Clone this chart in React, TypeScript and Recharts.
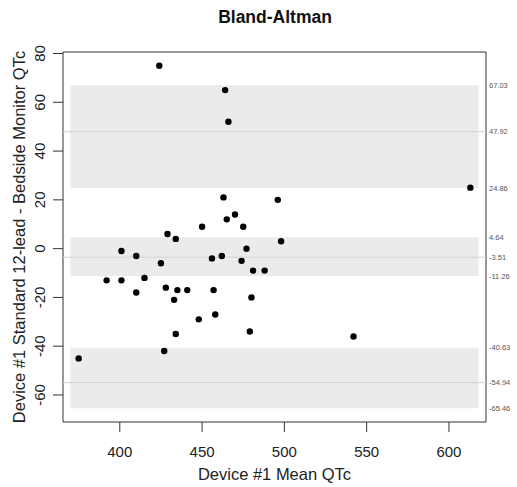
import React from 'react';
import {
  ComposedChart,
  Scatter,
  XAxis,
  YAxis,
  ReferenceArea,
  ReferenceLine,
} from 'recharts';

const meanQTc = [424, 464, 466, 463, 496, 470, 465, 450, 475, 429, 434, 498, 401, 410, 425, 456, 462, 477, 474, 481, 488, 392, 401, 415, 410, 428, 435, 441, 457, 433, 480, 448, 458, 434, 479, 427, 375, 542, 613];
const diffQTc = [75, 65, 52, 21, 20, 14, 12, 9, 9, 6, 4, 3, -1, -3, -6, -4, -3, 0, -5, -9, -9, -13, -13, -12, -18, -16, -17, -17, -17, -21, -20, -29, -27, -35, -34, -42, -45, -36, 25];

const bandLower = [24.86, -11.26, -65.46];
const bandUpper = [67.03, 4.64, -40.63];
const bandCenter = [47.92, -3.51, -54.94];
const sideLabels = [67.03, 47.92, 24.86, 4.64, -3.51, -11.26, -40.63, -54.94, -65.46];

const xTicks = [400, 450, 500, 550, 600];
const yTicks = [-60, -40, -20, 0, 20, 40, 60, 80];
const xDomain: [number, number] = [365.5, 622.5];
const yDomain: [number, number] = [-71.08, 80.62];
const bandX: [number, number] = [370, 618];

const FONT = '"Liberation Sans", Arial, Helvetica, sans-serif';

const data = meanQTc.map((m, i) => ({ x: m, y: diffQTc[i] }));

const XTick = (props: any) => {
  const { x, y, payload } = props;
  return (
    <text x={x} y={y + 25} textAnchor="middle" fontSize={15} fontFamily={FONT} fill="#222">
      {payload.value}
    </text>
  );
};

const YTick = (props: any) => {
  const { x, y, payload } = props;
  const bx = x - 8;
  return (
    <text
      x={bx}
      y={y}
      transform={`rotate(-90, ${bx}, ${y})`}
      textAnchor="middle"
      fontSize={15}
      fontFamily={FONT}
      fill="#222"
    >
      {payload.value}
    </text>
  );
};

const Dot = (props: any) => <circle cx={props.cx} cy={props.cy} r={3.2} fill="#000" />;

export default function App() {
  return (
    <div style={{ position: 'absolute', left: 0, top: 0, width: 517, height: 487, background: '#fff' }}>
      <div
        style={{
          position: 'absolute',
          left: 0,
          top: 6,
          width: 550,
          textAlign: 'center',
          fontFamily: FONT,
          fontWeight: 'bold',
          fontSize: 17.5,
          lineHeight: '22px',
          color: '#111',
        }}
      >
        Bland-Altman
      </div>
      <ComposedChart
        width={517}
        height={487}
        data={data}
        margin={{ top: 52, right: 31, bottom: 25, left: 0 }}
      >
        <XAxis
          type="number"
          dataKey="x"
          domain={xDomain}
          ticks={xTicks}
          allowDataOverflow
          axisLine={false}
          tickLine={{ stroke: '#333' }}
          tickSize={10}
          tickMargin={0}
          height={40}
          tick={<XTick />}
          label={(p: any) => {
            const vb = p.viewBox;
            return (
              <text
                x={vb.x + vb.width / 2}
                y={480}
                textAnchor="middle"
                fontSize={16.5}
                fontFamily={FONT}
                fill="#222"
              >
                Device #1 Mean QTc
              </text>
            );
          }}
        />
        <YAxis
          type="number"
          dataKey="y"
          domain={yDomain}
          ticks={yTicks}
          allowDataOverflow
          axisLine={false}
          tickLine={{ stroke: '#333' }}
          tickSize={10}
          tickMargin={0}
          width={63}
          tick={<YTick />}
          label={(p: any) => {
            const vb = p.viewBox;
            const cy = vb.y + vb.height / 2;
            return (
              <text
                x={25}
                y={cy}
                transform={`rotate(-90, 25, ${cy})`}
                textAnchor="middle"
                fontSize={16.5}
                fontFamily={FONT}
                fill="#222"
              >
                Device #1 Standard 12-lead - Bedside Monitor QTc
              </text>
            );
          }}
        />
        {bandLower.map((lo, i) => (
          <ReferenceArea
            key={`band-${i}`}
            x1={bandX[0]}
            x2={bandX[1]}
            y1={lo}
            y2={bandUpper[i]}
            fill="#ebebeb"
            fillOpacity={1}
            stroke="none"
          />
        ))}
        {bandCenter.map((c, i) => (
          <ReferenceLine key={`mid-${i}`} y={c} stroke="#d2d2d2" strokeWidth={1} />
        ))}
        {sideLabels.map((v, i) => (
          <ReferenceLine
            key={`lab-${i}`}
            y={v}
            stroke="none"
            label={{
              value: v.toFixed(2),
              position: 'right',
              offset: 3,
              fontSize: 7.5,
              fill: '#555',
              fontFamily: FONT,
            }}
          />
        ))}
        <Scatter dataKey="y" shape={<Dot />} isAnimationActive={false} />
        <ReferenceArea
          x1={xDomain[0]}
          x2={xDomain[1]}
          y1={yDomain[0]}
          y2={yDomain[1]}
          fill="none"
          stroke="#333"
          strokeWidth={1}
        />
      </ComposedChart>
    </div>
  );
}
